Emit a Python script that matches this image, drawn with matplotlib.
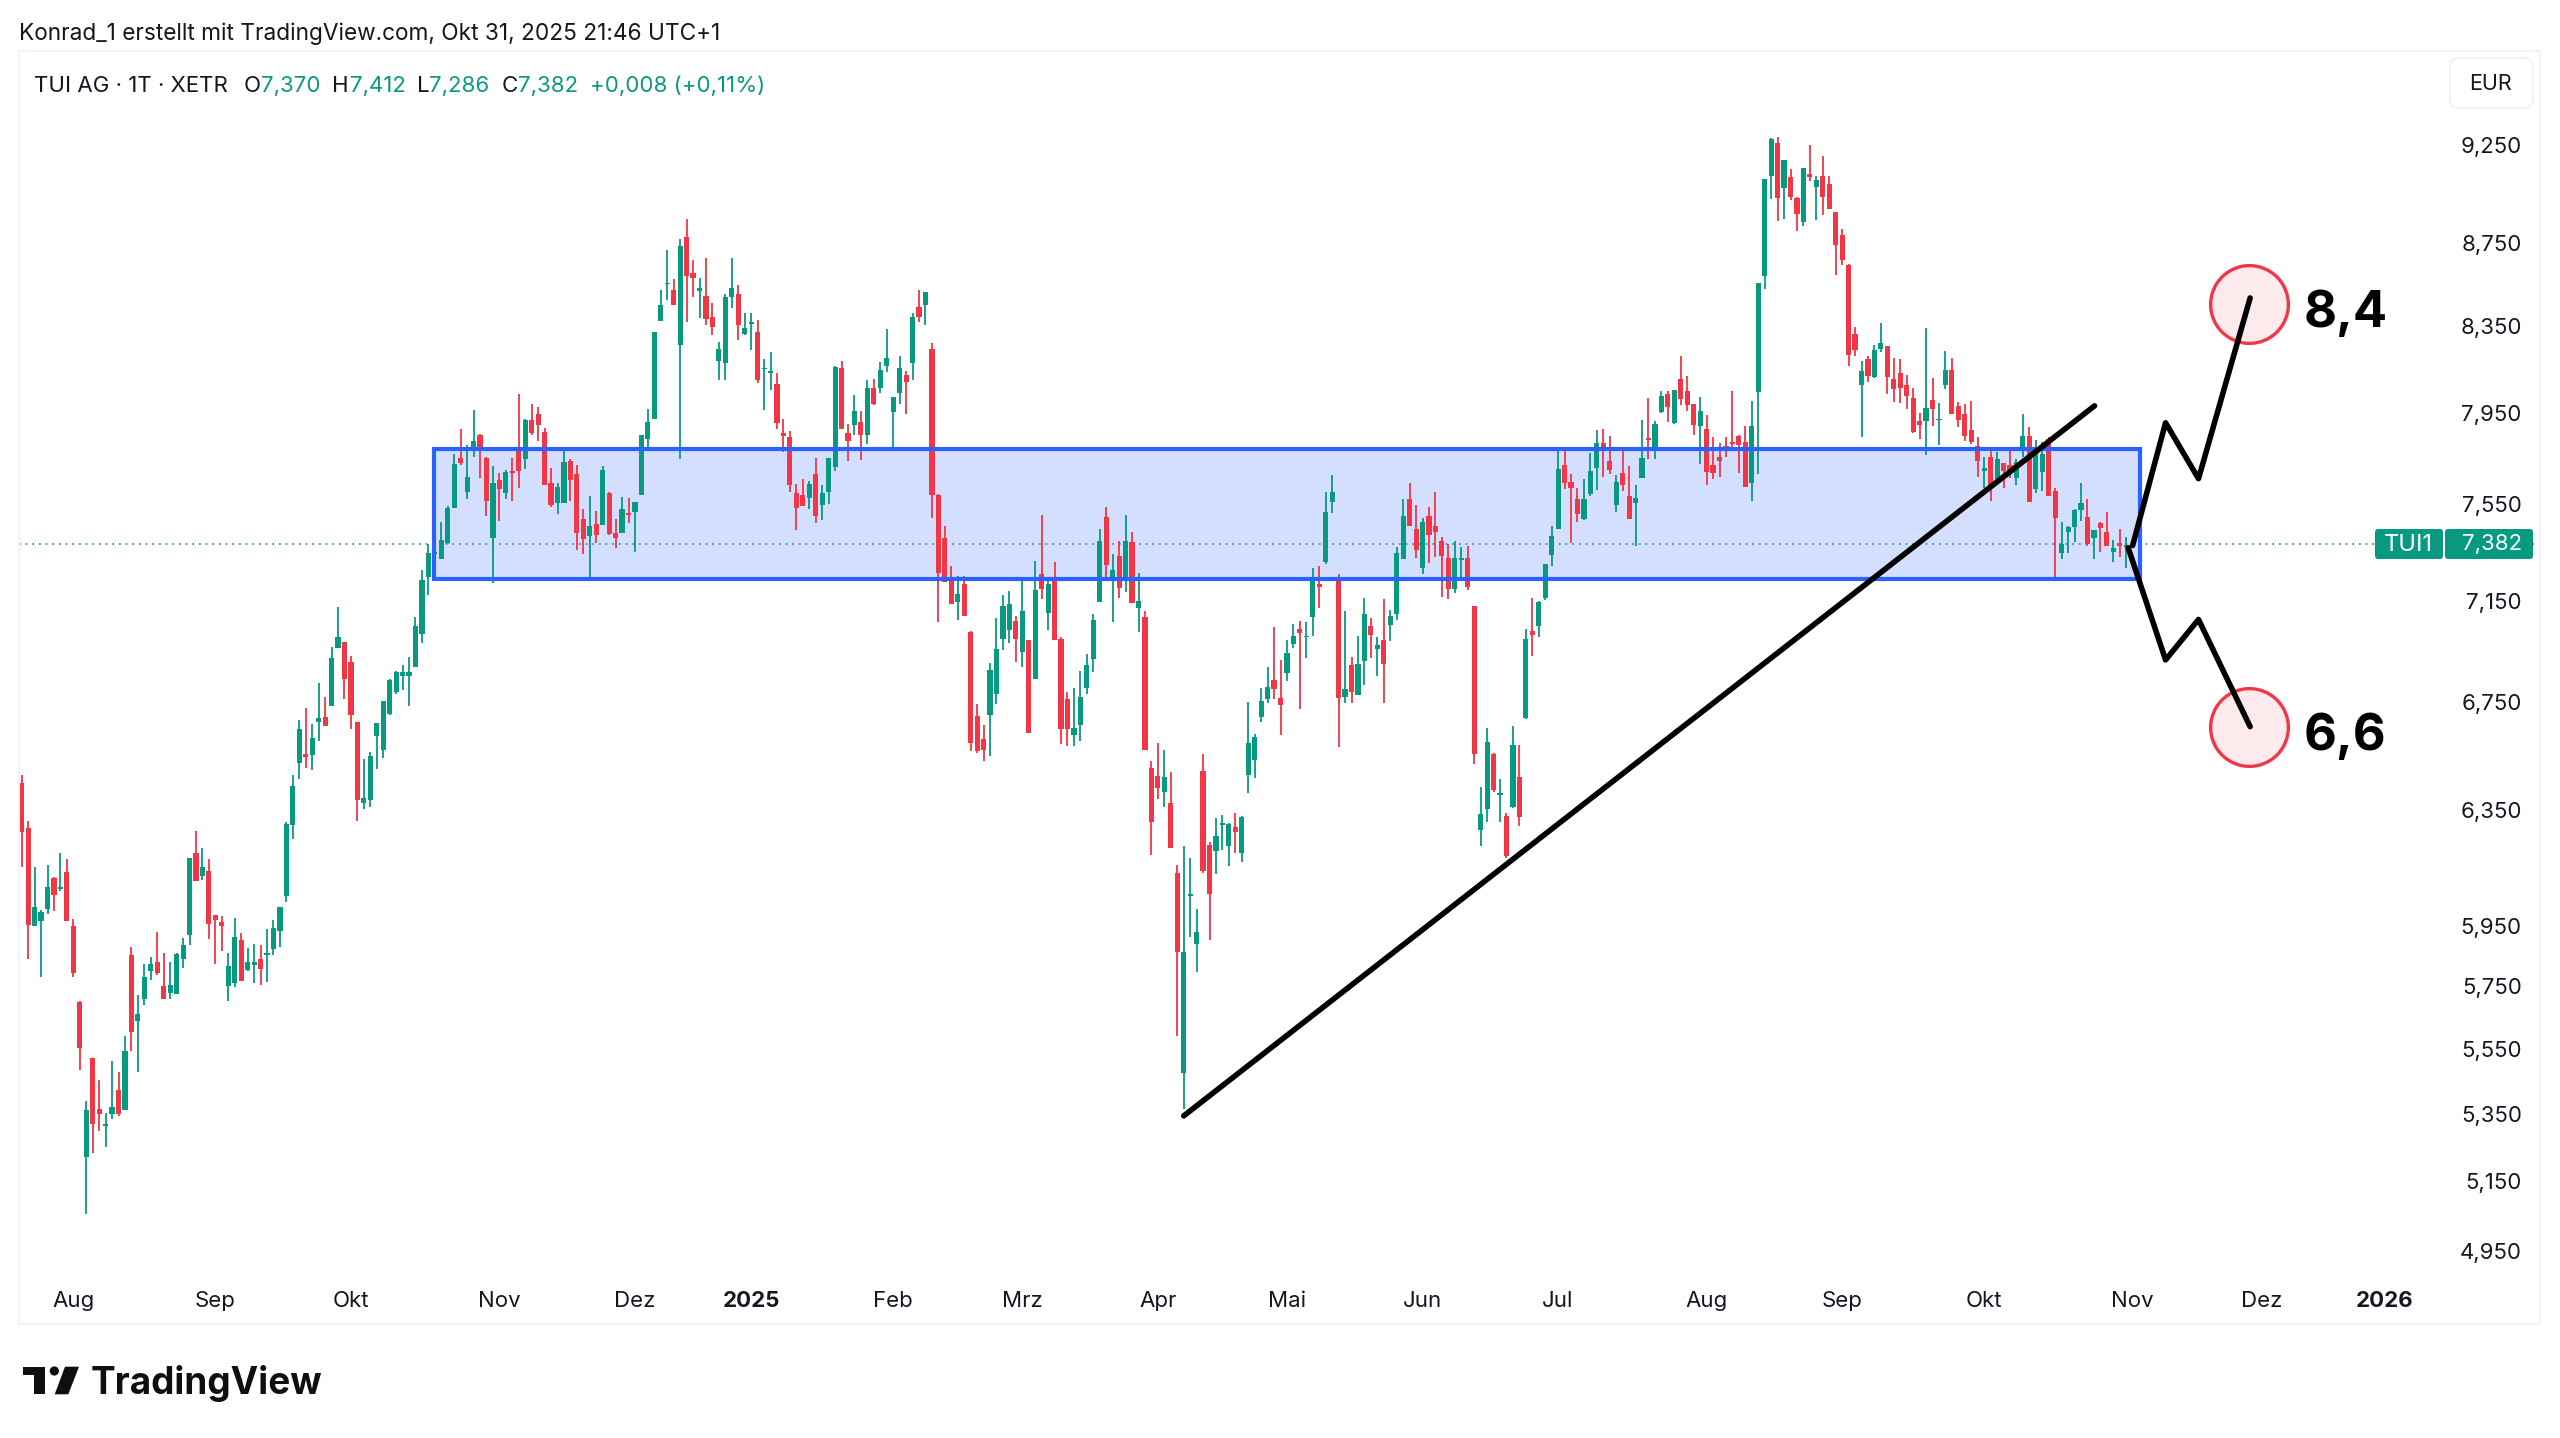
import numpy as np
import matplotlib.pyplot as plt
from matplotlib.patches import Rectangle, FancyBboxPatch, Polygon, Circle
from matplotlib.ticker import NullLocator

plt.rcParams['font.family'] = ['Inter', 'DejaVu Sans']

# 1. DATA (TUI AG daily candles)
opens = [
    6.454, 6.293, 5.955, 5.973, 6.013, 6.119, 6.080, 6.139, 5.955, 5.706,
    5.231, 5.529, 5.373, 5.322, 5.358, 5.431, 5.370, 5.860, 5.646, 5.716,
    5.807, 5.836, 5.758, 5.735, 5.732, 5.846, 5.926, 6.205, 6.125, 6.143,
    5.993, 5.969, 5.758, 5.768, 5.909, 5.810, 5.826, 5.846, 5.860, 5.879,
    5.939, 6.057, 6.304, 6.528, 6.561, 6.557, 6.680, 6.698, 6.740, 6.964,
    6.988, 6.909, 6.680, 6.382, 6.393, 6.628, 6.575, 6.710, 6.793, 6.855,
    6.855, 6.890, 7.019, 7.248, 7.343, 7.323, 7.388, 7.536, 7.750, 7.604,
    7.791, 7.851, 7.750, 7.410, 7.654, 7.600, 7.696, 7.798, 7.748, 7.917,
    7.946, 7.866, 7.642, 7.557, 7.557, 7.738, 7.680, 7.490, 7.416, 7.470,
    7.465, 7.600, 7.429, 7.432, 7.513, 7.518, 7.592, 7.836, 7.924, 8.375,
    8.549, 8.524, 8.262, 8.783, 8.603, 8.515, 8.491, 8.393, 8.185, 8.178,
    8.490, 8.504, 8.315, 8.362, 8.323, 8.151, 8.132, 8.082, 7.859, 7.844,
    7.600, 7.590, 7.578, 7.680, 7.547, 7.603, 7.713, 8.153, 7.862, 7.896,
    7.908, 7.853, 8.063, 8.063, 8.163, 7.956, 8.042, 8.122, 8.176, 8.442,
    8.450, 8.242, 7.589, 7.410, 7.238, 7.146, 7.220, 7.026, 6.703, 6.617,
    6.707, 6.785, 7.001, 7.035, 7.072, 6.950, 6.995, 6.844, 7.261, 7.103,
    7.250, 7.000, 6.766, 6.631, 6.670, 6.810, 6.921, 7.148, 7.496, 7.236,
    7.336, 7.236, 7.393, 7.122, 7.088, 6.508, 6.479, 6.424, 6.384, 6.135,
    5.484, 6.057, 5.895, 6.500, 6.235, 6.213, 6.303, 6.230, 6.298, 6.207,
    6.486, 6.540, 6.698, 6.769, 6.842, 6.772, 6.869, 6.982, 7.040, 7.006,
    7.086, 7.218, 7.312, 7.563, 7.250, 6.774, 6.899, 6.782, 6.912, 7.051,
    6.962, 6.996, 7.055, 7.101, 7.323, 7.574, 7.446, 7.284, 7.500, 7.458,
    7.397, 7.325, 7.198, 7.318, 7.328, 7.132, 6.285, 6.362, 6.561, 6.412,
    6.338, 6.368, 6.477, 6.696, 7.032, 7.053, 7.165, 7.338, 7.449, 7.722,
    7.645, 7.575, 7.490, 7.596, 7.708, 7.816, 7.738, 7.547, 7.685, 7.585,
    7.558, 7.666, 7.837, 7.795, 7.953, 8.034, 7.905, 8.105, 8.050, 7.990,
    7.894, 7.878, 7.720, 7.755, 7.802, 7.819, 7.849, 7.819, 7.642, 8.046,
    8.592, 9.092, 9.262, 9.028, 9.084, 8.976, 8.857, 9.100, 9.035, 9.089,
    9.046, 8.905, 8.790, 8.645, 8.315, 8.077, 8.197, 8.113, 8.241, 8.257,
    8.105, 8.131, 8.078, 8.017, 7.916, 7.915, 8.008, 7.917, 8.075, 8.146,
    7.980, 7.946, 7.874, 7.802, 7.695, 7.756, 7.660, 7.730, 7.721, 7.665,
    7.795, 7.848, 7.617, 7.691, 7.835, 7.609, 7.347, 7.435, 7.456, 7.527,
    7.497, 7.409, 7.472, 7.435, 7.351, 7.389, 7.370,
]
highs = [
    6.484, 6.318, 6.156, 6.010, 6.164, 6.122, 6.205, 6.184, 5.979, 5.710,
    5.398, 5.529, 5.462, 5.361, 5.520, 5.486, 5.598, 5.886, 5.729, 5.830,
    5.853, 5.936, 5.866, 5.836, 5.866, 5.916, 6.188, 6.282, 6.223, 6.184,
    5.993, 5.990, 5.866, 5.983, 5.933, 5.883, 5.896, 5.893, 5.945, 5.976,
    6.020, 6.314, 6.484, 6.687, 6.733, 6.672, 6.828, 6.774, 6.968, 7.127,
    6.988, 6.933, 6.680, 6.543, 6.568, 6.676, 6.759, 6.844, 6.874, 6.898,
    6.929, 7.087, 7.277, 7.384, 7.380, 7.475, 7.543, 7.770, 7.879, 7.808,
    7.962, 7.855, 7.757, 7.715, 7.685, 7.700, 7.750, 8.034, 7.924, 7.992,
    7.979, 7.884, 7.708, 7.642, 7.791, 7.747, 7.719, 7.533, 7.585, 7.525,
    7.715, 7.606, 7.490, 7.581, 7.578, 7.561, 7.850, 7.967, 8.323, 8.524,
    8.717, 8.575, 8.769, 8.873, 8.668, 8.579, 8.680, 8.462, 8.275, 8.504,
    8.678, 8.544, 8.410, 8.414, 8.381, 8.196, 8.230, 8.130, 7.923, 7.870,
    7.639, 7.658, 7.650, 7.750, 7.635, 7.753, 8.163, 8.185, 7.900, 8.029,
    7.958, 8.098, 8.103, 8.181, 8.334, 8.022, 8.211, 8.143, 8.411, 8.524,
    8.511, 8.271, 7.594, 7.458, 7.292, 7.252, 7.252, 7.032, 6.747, 6.668,
    6.907, 7.084, 7.174, 7.190, 7.091, 7.232, 6.995, 7.315, 7.506, 7.241,
    7.312, 7.006, 6.793, 6.809, 6.874, 6.942, 7.098, 7.449, 7.539, 7.342,
    7.399, 7.506, 7.435, 7.266, 7.110, 6.534, 6.603, 6.577, 6.494, 6.164,
    6.230, 6.190, 6.015, 6.563, 6.244, 6.331, 6.340, 6.312, 6.347, 6.336,
    6.757, 6.635, 6.809, 6.889, 7.047, 6.916, 6.996, 7.061, 7.072, 7.067,
    7.286, 7.292, 7.606, 7.675, 7.261, 7.113, 6.929, 7.012, 7.165, 7.084,
    7.006, 7.159, 7.117, 7.370, 7.576, 7.644, 7.548, 7.495, 7.539, 7.606,
    7.413, 7.384, 7.397, 7.372, 7.378, 7.132, 6.440, 6.659, 6.564, 6.470,
    6.347, 6.665, 6.593, 7.041, 7.162, 7.150, 7.300, 7.459, 7.792, 7.792,
    7.683, 7.620, 7.658, 7.773, 7.876, 7.878, 7.848, 7.679, 7.792, 7.716,
    7.635, 7.917, 8.017, 7.912, 8.048, 8.048, 8.053, 8.209, 8.118, 7.990,
    8.022, 7.942, 7.843, 7.816, 7.843, 8.048, 7.851, 7.891, 8.006, 8.558,
    9.074, 9.285, 9.290, 9.174, 9.124, 8.984, 9.133, 9.248, 9.089, 9.193,
    9.089, 8.906, 8.821, 8.646, 8.346, 8.186, 8.209, 8.261, 8.364, 8.257,
    8.200, 8.197, 8.122, 8.062, 7.949, 8.340, 8.110, 7.994, 8.235, 8.199,
    8.000, 7.990, 8.003, 7.843, 7.756, 7.782, 7.777, 7.730, 7.782, 7.747,
    7.946, 7.888, 7.830, 7.821, 7.843, 7.622, 7.477, 7.460, 7.531, 7.643,
    7.574, 7.443, 7.477, 7.519, 7.401, 7.447, 7.412,
]
lows = [
    6.156, 5.846, 5.955, 5.787, 5.996, 6.006, 6.074, 5.973, 5.787, 5.492,
    5.066, 5.242, 5.307, 5.260, 5.343, 5.352, 5.370, 5.552, 5.486, 5.697,
    5.778, 5.794, 5.716, 5.716, 5.732, 5.817, 5.893, 6.108, 6.112, 5.913,
    5.830, 5.873, 5.710, 5.755, 5.775, 5.807, 5.768, 5.761, 5.771, 5.860,
    5.886, 6.037, 6.254, 6.469, 6.509, 6.502, 6.609, 6.665, 6.740, 6.964,
    6.767, 6.654, 6.318, 6.361, 6.368, 6.506, 6.546, 6.706, 6.786, 6.801,
    6.740, 6.890, 6.984, 7.175, 7.271, 7.323, 7.385, 7.536, 7.722, 7.572,
    7.757, 7.662, 7.502, 7.226, 7.480, 7.576, 7.564, 7.622, 7.705, 7.853,
    7.826, 7.635, 7.538, 7.510, 7.557, 7.566, 7.358, 7.342, 7.242, 7.388,
    7.465, 7.423, 7.369, 7.432, 7.472, 7.350, 7.592, 7.795, 7.924, 8.375,
    8.475, 8.450, 7.745, 8.371, 8.488, 8.386, 8.353, 8.306, 8.101, 8.098,
    8.437, 8.284, 8.306, 8.236, 8.085, 7.962, 8.054, 7.877, 7.777, 7.604,
    7.443, 7.543, 7.531, 7.472, 7.487, 7.552, 7.693, 7.877, 7.740, 7.850,
    7.743, 7.814, 7.985, 8.042, 8.135, 7.791, 7.990, 7.944, 8.101, 8.370,
    8.353, 7.495, 7.067, 7.228, 7.139, 7.075, 7.092, 6.573, 6.566, 6.536,
    6.554, 6.749, 6.956, 6.984, 6.909, 6.892, 6.641, 6.844, 7.159, 7.035,
    6.996, 6.600, 6.592, 6.592, 6.608, 6.787, 6.872, 7.148, 7.244, 7.068,
    7.164, 7.188, 7.145, 7.028, 6.575, 6.200, 6.396, 6.370, 6.224, 5.600,
    5.373, 5.919, 5.803, 6.138, 5.909, 6.133, 6.217, 6.160, 6.206, 6.176,
    6.420, 6.473, 6.680, 6.754, 6.769, 6.631, 6.836, 6.963, 6.731, 6.926,
    7.010, 7.122, 7.302, 7.515, 6.588, 6.752, 6.752, 6.782, 6.820, 6.926,
    6.854, 6.752, 6.991, 7.077, 7.323, 7.460, 7.328, 7.261, 7.305, 7.330,
    7.169, 7.159, 7.183, 7.244, 7.196, 6.525, 6.232, 6.316, 6.424, 6.316,
    6.189, 6.365, 6.301, 6.692, 6.934, 7.008, 7.155, 7.293, 7.449, 7.616,
    7.390, 7.475, 7.483, 7.585, 7.614, 7.668, 7.683, 7.520, 7.610, 7.491,
    7.376, 7.666, 7.746, 7.746, 7.950, 7.910, 7.903, 7.986, 7.961, 7.851,
    7.724, 7.632, 7.660, 7.670, 7.755, 7.793, 7.685, 7.625, 7.564, 7.682,
    8.526, 8.972, 8.860, 8.871, 8.967, 8.810, 8.838, 9.063, 8.868, 8.891,
    8.920, 8.594, 8.645, 8.164, 8.211, 7.843, 8.090, 8.110, 8.228, 8.037,
    8.001, 7.993, 7.970, 7.863, 7.833, 7.765, 7.891, 7.808, 8.059, 7.947,
    7.887, 7.824, 7.813, 7.669, 7.622, 7.566, 7.652, 7.622, 7.665, 7.635,
    7.756, 7.561, 7.600, 7.609, 7.587, 7.248, 7.322, 7.347, 7.393, 7.481,
    7.376, 7.322, 7.351, 7.376, 7.310, 7.330, 7.286,
]
closes = [
    6.279, 5.959, 6.020, 6.003, 6.087, 6.060, 6.087, 5.973, 5.800, 5.561,
    5.370, 5.328, 5.358, 5.328, 5.379, 5.358, 5.552, 5.611, 5.668, 5.787,
    5.830, 5.800, 5.716, 5.761, 5.863, 5.893, 6.188, 6.108, 6.156, 5.963,
    5.976, 5.955, 5.823, 5.919, 5.775, 5.836, 5.836, 5.813, 5.866, 5.949,
    6.020, 6.307, 6.443, 6.653, 6.550, 6.620, 6.695, 6.665, 6.925, 7.008,
    6.844, 6.706, 6.393, 6.400, 6.553, 6.676, 6.759, 6.840, 6.870, 6.870,
    6.870, 7.051, 7.236, 7.347, 7.353, 7.403, 7.535, 7.726, 7.728, 7.668,
    7.827, 7.787, 7.566, 7.642, 7.615, 7.692, 7.686, 7.693, 7.917, 7.862,
    7.895, 7.635, 7.548, 7.624, 7.735, 7.657, 7.432, 7.407, 7.460, 7.420,
    7.700, 7.427, 7.410, 7.530, 7.508, 7.561, 7.850, 7.908, 8.323, 8.448,
    8.556, 8.450, 8.735, 8.592, 8.579, 8.530, 8.385, 8.347, 8.242, 8.487,
    8.530, 8.357, 8.343, 8.370, 8.101, 8.156, 8.140, 7.905, 7.846, 7.632,
    7.535, 7.543, 7.639, 7.502, 7.600, 7.753, 8.161, 7.877, 7.826, 7.958,
    7.851, 8.063, 7.992, 8.147, 8.201, 8.022, 8.153, 8.089, 8.395, 8.392,
    8.511, 7.592, 7.265, 7.228, 7.139, 7.181, 7.092, 6.603, 6.573, 6.575,
    6.879, 6.962, 7.131, 7.139, 7.000, 7.113, 6.641, 7.194, 7.198, 7.218,
    6.996, 6.654, 6.656, 6.659, 6.777, 6.897, 7.075, 7.397, 7.298, 7.277,
    7.205, 7.395, 7.145, 7.151, 6.575, 6.314, 6.438, 6.476, 6.224, 5.869,
    5.870, 6.066, 5.937, 6.144, 6.063, 6.264, 6.312, 6.307, 6.279, 6.334,
    6.603, 6.624, 6.760, 6.815, 6.804, 6.746, 6.945, 7.012, 7.025, 7.012,
    7.238, 7.209, 7.517, 7.602, 6.771, 6.807, 6.793, 6.904, 7.098, 7.017,
    6.977, 6.902, 7.093, 7.348, 7.500, 7.460, 7.358, 7.477, 7.420, 7.433,
    7.336, 7.199, 7.325, 7.325, 7.209, 6.563, 6.344, 6.606, 6.428, 6.418,
    6.194, 6.595, 6.334, 7.000, 7.014, 7.146, 7.300, 7.418, 7.703, 7.641,
    7.620, 7.510, 7.572, 7.695, 7.818, 7.801, 7.697, 7.645, 7.635, 7.491,
    7.578, 7.750, 7.831, 7.900, 8.027, 7.978, 8.053, 8.015, 7.984, 7.898,
    7.960, 7.690, 7.684, 7.736, 7.795, 7.812, 7.809, 7.625, 7.893, 8.558,
    9.072, 9.281, 8.977, 9.174, 8.980, 8.895, 9.133, 9.083, 9.069, 8.982,
    8.920, 8.742, 8.666, 8.215, 8.238, 8.140, 8.120, 8.239, 8.270, 8.115,
    8.060, 8.065, 8.025, 7.867, 7.898, 7.971, 7.966, 7.923, 8.146, 7.947,
    7.917, 7.848, 7.820, 7.739, 7.708, 7.630, 7.747, 7.695, 7.686, 7.734,
    7.848, 7.561, 7.769, 7.769, 7.587, 7.493, 7.384, 7.456, 7.527, 7.557,
    7.384, 7.443, 7.451, 7.376, 7.368, 7.376, 7.382,
]

ytick_values = [9.25, 8.75, 8.35, 7.95, 7.55, 7.15, 6.75, 6.35, 5.95, 5.75, 5.55, 5.35, 5.15, 4.95]
ytick_labels = ['9,250', '8,750', '8,350', '7,950', '7,550', '7,150', '6,750',
                '6,350', '5,950', '5,750', '5,550', '5,350', '5,150', '4,950']
xtick_bars = [8, 30, 51, 74, 95, 113, 135, 155, 176, 196, 217, 238, 261, 282, 304, 327, 347, 366]
xtick_labels = ['Aug', 'Sep', 'Okt', 'Nov', 'Dez', '2025', 'Feb', 'Mrz', 'Apr', 'Mai',
                'Jun', 'Jul', 'Aug', 'Sep', 'Okt', 'Nov', 'Dez', '2026']

last_price = 7.382

# drawings on the chart (bar number, price)
zone_bars = [63.9, 328.2]
zone_prices = [7.237, 7.790]
trend_bars = [180, 321.1]
trend_prices = [5.343, 7.982]
up_bars = [327, 332.1, 337.2, 345.2]
up_prices = [7.376, 7.906, 7.660, 8.484]
down_bars = [326.3, 332.1, 337.2, 345.2]
down_prices = [7.367, 6.914, 7.074, 6.658]
target_bars = [345, 345]
target_prices = [8.455, 6.655]
target_labels = ['8,4', '6,6']

# the candle readings ran a little high on the lower part of the log scale
read_prices = [4.9, 5.077, 5.713, 6.393, 7.155, 8.009, 9.4]
true_prices = [4.887, 5.066, 5.704, 6.387, 7.152, 8.009, 9.4]

GREEN = '#089981'
RED = '#f23645'
BLUE = '#2962ff'
FRAME = '#f0f3fa'
TEXT = '#131722'

# 2. FIGURE AND PRICE AXES
W, H = 2560, 1438
fig = plt.figure(figsize=(W / 100, H / 100), dpi=100, facecolor='white')

left, right, top, bottom = 19, 2540, 51, 1324
ax = fig.add_axes([left / W, 1 - bottom / H, (right - left) / W, (bottom - top) / H])
ax.set_yscale('log')
ax.set_xlim(-0.418, 390.1)
ax.set_ylim(4.750, 9.755)

for spine in ax.spines.values():
    spine.set_color(FRAME)
    spine.set_linewidth(1.4)

ax.set_yticks(ytick_values, ytick_labels)
ax.yaxis.set_minor_locator(NullLocator())
ax.tick_params(axis='y', which='both', left=False, right=False, labelleft=False,
               labelright=True, pad=-16.6, labelsize=16, labelcolor=TEXT)
for label in ax.get_yticklabels():
    label.set_ha('right')

ax.set_xticks(xtick_bars, xtick_labels)
ax.tick_params(axis='x', bottom=False, pad=-27.5, labelsize=16, labelcolor=TEXT)
for label in ax.get_xticklabels():
    if label.get_text() in ('2025', '2026'):
        label.set_fontweight('bold')

# 3. CANDLES
bars = np.arange(len(opens))
o = np.interp(opens, read_prices, true_prices)
h = np.interp(highs, read_prices, true_prices)
l = np.interp(lows, read_prices, true_prices)
c = np.interp(closes, read_prices, true_prices)
colors = np.where(c >= o, GREEN, RED)

ax.add_patch(Rectangle((zone_bars[0], zone_prices[0]), zone_bars[1] - zone_bars[0],
                       zone_prices[1] - zone_prices[0], facecolor='#d4deff',
                       edgecolor='none', zorder=1))
ax.axhline(last_price, color=GREEN, lw=1.2, ls=(0, (1, 3)), zorder=1.5)
ax.vlines(bars, l, h, colors=colors, lw=1.3, zorder=2)
ax.bar(bars, np.abs(c - o), bottom=np.minimum(o, c), width=0.8, color=colors, zorder=2.5)

# 4. DRAWINGS
ax.add_patch(Rectangle((zone_bars[0], zone_prices[0]), zone_bars[1] - zone_bars[0],
                       zone_prices[1] - zone_prices[0], facecolor='none',
                       edgecolor=BLUE, lw=3, zorder=3))
for xs, ys in [(trend_bars, trend_prices), (up_bars, up_prices), (down_bars, down_prices)]:
    ax.plot(xs, ys, color='black', lw=4, solid_capstyle='round',
            solid_joinstyle='round', zorder=5)

ax.scatter(target_bars, target_prices, s=3136, facecolor=(0.949, 0.212, 0.271, 0.1),
           edgecolor=RED, linewidth=2.4, zorder=4)
for bar, price, label in zip(target_bars, target_prices, target_labels):
    ax.annotate(label, (bar, price), xytext=(39.5, -6.5), textcoords='offset points',
                fontsize=36.5, fontweight='bold', color='black', va='center', zorder=6)

# 5. HEADER, PRICE TAG, LOGO (drawn in pixels on top of the chart)
over = fig.add_axes([0, 0, 1, 1], zorder=10)
over.set_xlim(0, W)
over.set_ylim(H, 0)
over.axis('off')

over.text(19, 34, 'Konrad_1 erstellt mit TradingView.com, Okt 31, 2025 21:46 UTC+1',
          fontsize=16.3, color=TEXT, va='center')

header_parts = [
    (34.5, 'TUI AG · 1T · XETR', TEXT), (244, 'O', TEXT), (261, '7,370', GREEN),
    (332, 'H', TEXT), (350, '7,412', GREEN), (417, 'L', TEXT), (429.5, '7,286', GREEN),
    (502, 'C', TEXT), (518, '7,382', GREEN), (590, '+0,008 (+0,11%)', GREEN),
]
for x, s, col in header_parts:
    over.text(x, 86, s, fontsize=16, color=col, va='center')

over.add_patch(FancyBboxPatch((2450, 58), 83, 50, boxstyle='round,pad=0,rounding_size=8',
                              facecolor='white', edgecolor=FRAME, lw=1.4))
over.text(2490, 84, 'EUR', fontsize=15.5, color=TEXT, ha='center', va='center')

over.add_patch(FancyBboxPatch((2375, 529), 68, 30, boxstyle='round,pad=0,rounding_size=3',
                              facecolor=GREEN, edgecolor='none'))
over.add_patch(FancyBboxPatch((2445, 529), 88, 30, boxstyle='round,pad=0,rounding_size=3',
                              facecolor=GREEN, edgecolor='none'))
over.text(2408, 545, 'TUI1', fontsize=17, color='white', ha='center', va='center')
over.text(2522, 544, '7,382', fontsize=16, color='white', ha='right', va='center')

# TradingView logo
LOGO = '#0f0f0f'
over.add_patch(Polygon([(22.7, 1366.7), (45, 1366.7), (45, 1394.3), (34.3, 1394.3),
                        (34.3, 1375), (22.7, 1375)], facecolor=LOGO, edgecolor='none'))
over.add_patch(Circle((54.3, 1371), 4.6, facecolor=LOGO, edgecolor='none'))
over.add_patch(Polygon([(79, 1366.7), (68.3, 1394.3), (54.7, 1394.3), (65, 1366.7)],
                       facecolor=LOGO, edgecolor='none'))
over.text(91, 1384, 'TradingView', fontsize=26.6, fontweight='bold', color=LOGO, va='center')

fig.savefig('out.png', dpi=100, facecolor='white')
